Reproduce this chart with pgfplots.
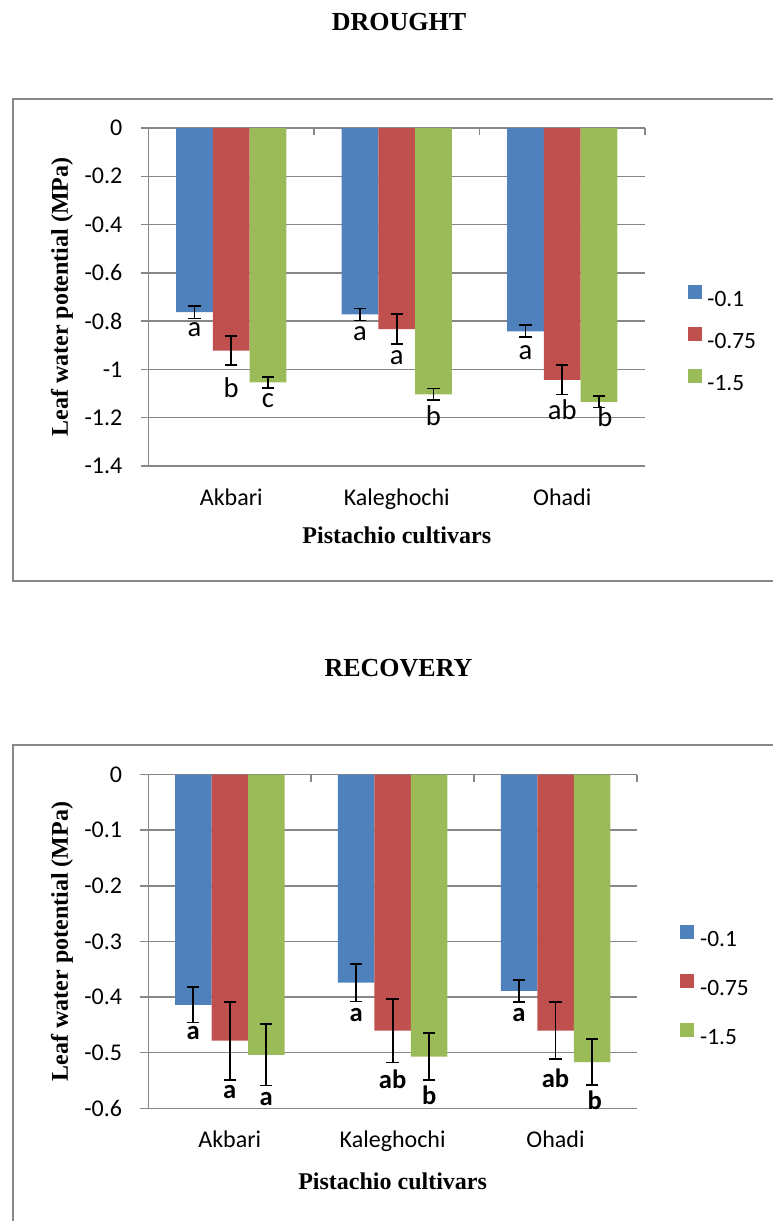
\documentclass[border=0pt]{standalone}
\usepackage{pgfplots}
\usepackage{pgfplotstable}
\pgfplotsset{compat=1.18}
\usepackage{fontspec}
\setmainfont{Liberation Serif}
\newfontfamily\calibri{Carlito}
\definecolor{cblue}{RGB}{79,129,189}
\definecolor{cred}{RGB}{192,80,77}
\definecolor{cgreen}{RGB}{155,187,89}
\definecolor{gline}{RGB}{134,134,134}
\definecolor{frm}{RGB}{135,135,135}

% DROUGHT
\pgfplotstableread{
x y e
0 -0.763 0.026
1 -0.772 0.025
2 -0.842 0.025
}\dA
\pgfplotstableread{
x y e
0 -0.922 0.061
1 -0.833 0.062
2 -1.043 0.061
}\dB
\pgfplotstableread{
x y e
0 -1.054 0.024
1 -1.103 0.024
2 -1.134 0.024
}\dC
% RECOVERY
\pgfplotstableread{
x y e
0 -0.414 0.032
1 -0.374 0.034
2 -0.389 0.020
}\rA
\pgfplotstableread{
x y e
0 -0.4785 0.070
1 -0.4605 0.057
2 -0.4605 0.051
}\rB
\pgfplotstableread{
x y e
0 -0.504 0.055
1 -0.507 0.042
2 -0.517 0.041
}\rC

\pgfplotsset{
  mybar/.style={
    scale only axis,
    xmin=-0.5, xmax=2.5,
    xtick={0,1,2}, xticklabels={Akbari,Kaleghochi,Ohadi},
    axis lines*=left,
    axis line style={gline, line width=0.75pt},
    ymajorgrids,
    major grid style={gline, line width=0.75pt},
    tick align=outside, major tick length=4pt,
    xtick style={draw=none},
    ytick style={gline, line width=0.75pt},
    ybar=0pt, clip=false,
    ticklabel style={font=\calibri\fontsize{12}{14}\selectfont},
    yticklabel style={anchor=east, inner sep=0pt, xshift=-8.9pt},
    xticklabel style={anchor=base, inner sep=0pt, yshift=-15.5pt},
    xlabel={Pistachio cultivars},
    ylabel={Leaf water potential (MPa)},
    label style={font=\bfseries\fontsize{12}{14}\selectfont},
    legend style={draw=none, fill=none, inner sep=0pt,
      font=\calibri\fontsize{11.7}{14}\selectfont,
      cells={anchor=west},
      nodes={inner sep=0pt, text height=7.4pt, text depth=0pt},
      column sep=2.85pt, anchor=north west},
    legend image code/.code={\fill[##1] (0pt,0pt) rectangle (7pt,7pt);},
  },
  errs/.style={error bars/.cd, y dir=both, y explicit, error mark=|,
    error bar style={draw=black, solid, line width=0.85pt},
    error mark options={draw=black, solid, line width=0.85pt, mark size=3.1pt}},
  barA/.style={fill=cblue, draw=none},
  barB/.style={fill=cred, draw=none},
  barC/.style={fill=cgreen, draw=none},
}

\begin{document}
\begin{tikzpicture}
\useasboundingbox (0,0) rectangle (386pt,-610.5pt);
\draw[frm, line width=1pt] (6.35pt,-49.5pt) rectangle (395pt,-290.35pt);
\draw[frm, line width=1pt] (6.35pt,-372.5pt) rectangle (395pt,-625pt);
\node[font=\bfseries\fontsize{13}{15}\selectfont, anchor=base] at (199.5pt,-15pt) {DROUGHT};
\node[font=\bfseries\fontsize{13}{15}\selectfont, anchor=base] at (199.25pt,-338.35pt) {RECOVERY};

\begin{axis}[mybar,
  at={(74.25pt,-64pt)}, anchor=north west,
  width=248.25pt, height=169pt,
  bar width=18.35pt,
  ymin=-1.4, ymax=0,
  ytick={-1.4,-1.2,-1,-0.8,-0.6,-0.4,-0.2,0},
  yticklabels={-1.4,-1.2,-1,-0.8,-0.6,-0.4,-0.2,0},
  xlabel style={at={(axis description cs:0.5,0)}, anchor=base, yshift=-38.5pt},
  ylabel style={at={(axis description cs:-0.1742,0.5)}, anchor=center},
  legend style={at={(1.0852,0.5377)}, row sep=10.5pt},
]
\addplot[barA, errs] table[x=x, y=y, y error=e] {\dA};
\addplot[barB, errs] table[x=x, y=y, y error=e] {\dB};
\addplot[barC, errs] table[x=x, y=y, y error=e] {\dC};
\legend{-0.1,-0.75,-1.5}
\draw[gline, line width=0.75pt] (axis cs:0.5,0) -- ++(0pt,-3.5pt);
\draw[gline, line width=0.75pt] (axis cs:1.5,0) -- ++(0pt,-3.5pt);
\draw[gline, line width=0.75pt] (axis cs:2.5,0) -- ++(0pt,-3.5pt);
\begin{scope}[every node/.style={font=\calibri\fontsize{14.3}{16}\selectfont, inner sep=0pt, anchor=center}]
\node at (axis cs:-0.2218,-0.837) {a};
\node at (axis cs:0,-1.077) {b};
\node at (axis cs:0.2218,-1.128) {c};
\node at (axis cs:0.7782,-0.851) {a};
\node at (axis cs:1,-0.951) {a};
\node at (axis cs:1.2218,-1.19) {b};
\node at (axis cs:1.7782,-0.93) {a};
\node at (axis cs:2,-1.167) {ab};
\node at (axis cs:2.258,-1.196) {b};
\end{scope}
\end{axis}

\begin{axis}[mybar,
  at={(74.15pt,-387.25pt)}, anchor=north west,
  width=244.35pt, height=166.9pt,
  bar width=18.25pt,
  ymin=-0.6, ymax=0,
  ytick={-0.6,-0.5,-0.4,-0.3,-0.2,-0.1,0},
  yticklabels={-0.6,-0.5,-0.4,-0.3,-0.2,-0.1,0},
  xlabel style={at={(axis description cs:0.5,0)}, anchor=base, yshift=-40.35pt},
  ylabel style={at={(axis description cs:-0.1766,0.5)}, anchor=center},
  legend style={at={(1.088,0.5504)}, row sep=13.85pt},
]
\addplot[barA, errs] table[x=x, y=y, y error=e] {\rA};
\addplot[barB, errs] table[x=x, y=y, y error=e] {\rB};
\addplot[barC, errs] table[x=x, y=y, y error=e] {\rC};
\legend{-0.1,-0.75,-1.5}
\draw[gline, line width=0.75pt] (axis cs:0.5,0) -- ++(0pt,-3.5pt);
\draw[gline, line width=0.75pt] (axis cs:1.5,0) -- ++(0pt,-3.5pt);
\draw[gline, line width=0.75pt] (axis cs:2.5,0) -- ++(0pt,-3.5pt);
\begin{scope}[every node/.style={font=\calibri\bfseries\fontsize{13.3}{15}\selectfont, inner sep=0pt, anchor=center}]
\node at (axis cs:-0.2241,-0.465) {a};
\node at (axis cs:0,-0.570) {a};
\node at (axis cs:0.2241,-0.583) {a};
\node at (axis cs:0.7759,-0.432) {a};
\node at (axis cs:1,-0.547) {ab};
\node at (axis cs:1.2241,-0.576) {b};
\node at (axis cs:1.7759,-0.432) {a};
\node at (axis cs:2,-0.546) {ab};
\node at (axis cs:2.24,-0.586) {b};
\end{scope}
\end{axis}
\end{tikzpicture}
\end{document}
